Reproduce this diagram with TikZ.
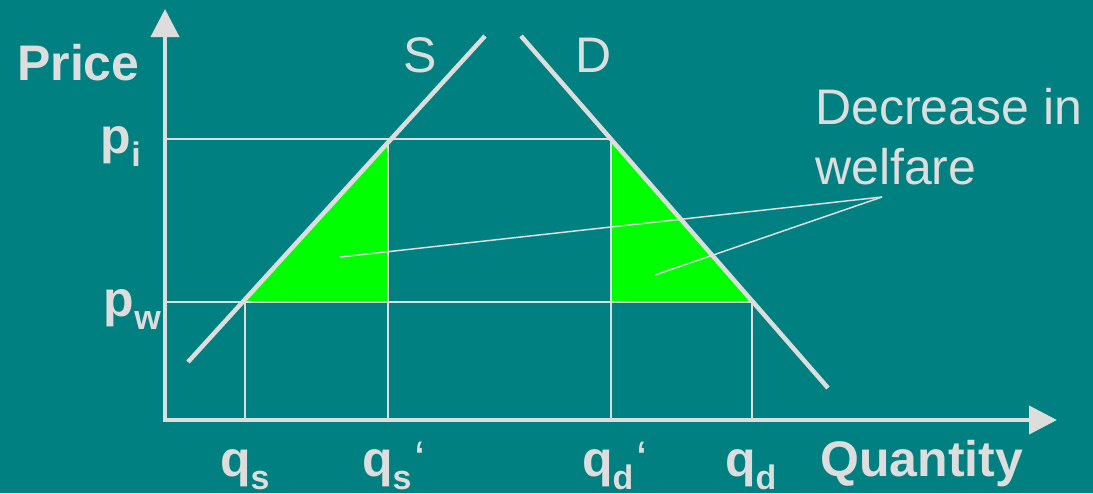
\documentclass[tikz,border=0pt]{standalone}
\usepackage{fontspec}
\setmainfont{Liberation Sans}
\usetikzlibrary{arrows.meta}
\definecolor{slideTeal}{RGB}{0,128,128}
\definecolor{axisGray}{RGB}{221,221,221}
\definecolor{lossGreen}{RGB}{0,255,0}
\newcommand{\lowsub}[1]{\raisebox{-0.26em}{\fontsize{34}{34}\selectfont #1}}
\newcommand{\tick}{\hspace{3pt}{\mdseries ‘}}

\begin{document}
\begin{tikzpicture}[x=1pt,y=-1pt,
  axislabel/.style={text=axisGray, inner sep=0pt, font=\fontsize{50}{60}\selectfont\bfseries},
  curvelabel/.style={text=axisGray, inner sep=0pt, font=\fontsize{50}{60}\selectfont},
  guide/.style={axisGray, line width=2pt},
  schedule/.style={axisGray, line width=4.5pt}]
\fill[slideTeal] (0,0) rectangle (1093,493);

% welfare loss triangles
\fill[lossGreen] (245,302) -- (388,139) -- (388,302) -- cycle;
\fill[lossGreen] (611,139) -- (611,302) -- (752,302) -- cycle;

% price levels and quantities
\draw[guide] (165,139) -- (611,139);
\draw[guide] (165,302) -- (752,302);
\draw[guide] (245,302) -- (245,420);
\draw[guide] (388,139) -- (388,420);
\draw[guide] (611,139) -- (611,420);
\draw[guide] (752,302) -- (752,420);

% axes
\draw[axisGray, line width=4pt, -{Triangle[length=28pt,width=28pt]}] (165,422) -- (165,9);
\draw[axisGray, line width=4pt, -{Triangle[length=28pt,width=28pt]}] (163,420) -- (1057,420);

% supply and demand
\draw[schedule] (188,362) -- (485,36);
\draw[schedule] (521,36) -- (828,388);
\node[curvelabel, anchor=base west] (supply) at (403,72) {S};
\node[curvelabel, anchor=base west] (demand) at (575,72) {D};

% annotation
\node[curvelabel, anchor=base west, align=left] (welfare) at (815,184) {Decrease in\\welfare};
\coordinate (tip) at (882,197);
\coordinate (lossS) at (340,257);
\coordinate (lossD) at (655,275);
\draw[axisGray, line width=1.5pt] (tip) -- (lossS);
\draw[axisGray, line width=1.5pt] (tip) -- (lossD);

% axis labels
\node[axislabel, anchor=base west] (price) at (17,80) {Price};
\node[axislabel, anchor=base east] (pi) at (141,153) {p\lowsub{i}};
\node[axislabel, anchor=base east] (pw) at (161,316) {p\lowsub{w}};
\node[axislabel, anchor=base west] (qs) at (220,476) {q\lowsub{s}};
\node[axislabel, anchor=base west] (qsp) at (362,476) {q\lowsub{s}\tick};
\node[axislabel, anchor=base west] (qdp) at (582,476) {q\lowsub{d}\tick};
\node[axislabel, anchor=base west] (qd) at (725,476) {q\lowsub{d}};
\node[axislabel, anchor=base west] (quantity) at (820,476) {Quantity};
\end{tikzpicture}
\end{document}
